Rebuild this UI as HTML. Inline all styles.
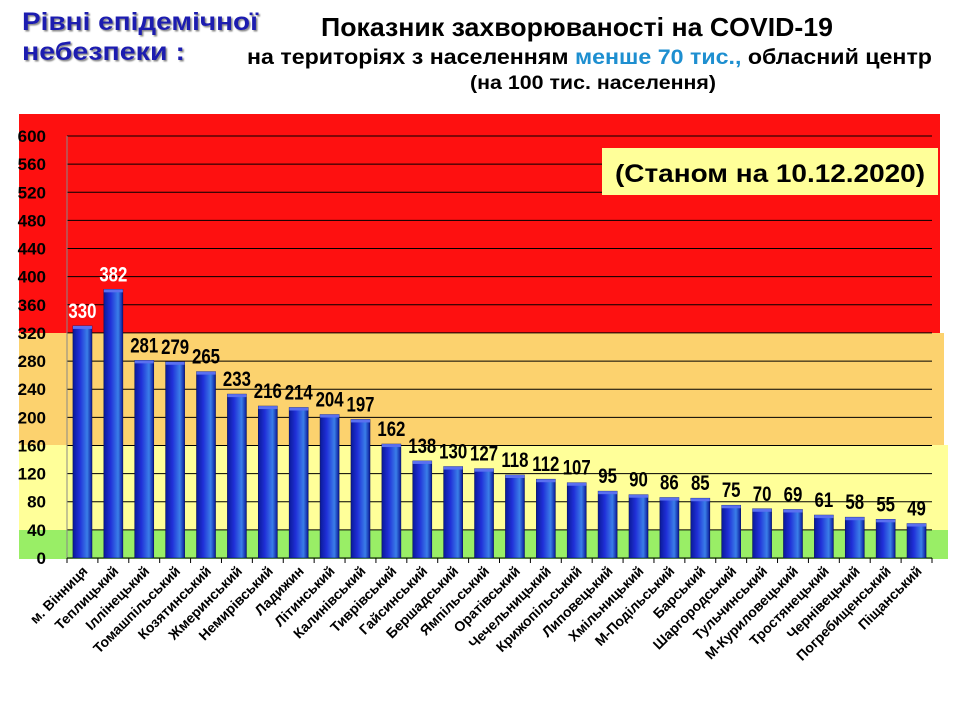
<!DOCTYPE html>
<html><head><meta charset="utf-8"><style>html,body{margin:0;padding:0;background:#fff}svg{display:block}</style></head>
<body>
<svg width="960" height="720" xmlns="http://www.w3.org/2000/svg" font-family="Liberation Sans, sans-serif" font-weight="bold">
<defs>
<linearGradient id="bg" x1="0" x2="1" y1="0" y2="0">
<stop offset="0" stop-color="#0a1a9a"/><stop offset="0.35" stop-color="#2030d8"/><stop offset="0.75" stop-color="#3a7ee8"/><stop offset="1" stop-color="#0a1a9a"/>
</linearGradient>
<filter id="sh"><feDropShadow dx="1.5" dy="1.5" stdDeviation="0.8" flood-color="#888"/></filter>
</defs>
<text x="22" y="30" font-size="25" fill="#1a1ab0" textLength="236" lengthAdjust="spacingAndGlyphs" filter="url(#sh)">Рівні епідемічної</text>
<text x="22" y="60" font-size="25" fill="#1a1ab0" textLength="163" lengthAdjust="spacingAndGlyphs" filter="url(#sh)">небезпеки :</text>
<text x="321" y="36" font-size="26" fill="#000" textLength="512" lengthAdjust="spacingAndGlyphs">Показник захворюваності на COVID-19</text>
<text x="247" y="64" font-size="21" fill="#000" textLength="685" lengthAdjust="spacingAndGlyphs">на територіях з населенням <tspan fill="#1e8fd0">менше 70 тис.,</tspan> обласний центр</text>
<text x="470" y="89" font-size="19" fill="#000" textLength="246" lengthAdjust="spacingAndGlyphs">(на 100  тис. населення)</text>
<rect x="19" y="114" width="921" height="219" fill="#fe1010"/>
<rect x="19" y="333" width="925" height="112" fill="#fcd26e"/>
<rect x="19" y="445" width="929" height="85" fill="#ffff99"/>
<rect x="19" y="530" width="929" height="29" fill="#99ee66"/>
<g id="grid" stroke="#000" stroke-width="1"></g>
<rect x="602" y="148" width="336" height="47" fill="#ffff99"/>
<text x="770" y="182" font-size="25" text-anchor="middle" fill="#000" textLength="310" lengthAdjust="spacingAndGlyphs">(Станом на 10.12.2020)</text>
<g id="chart"></g>
</svg>
<script>
const names=["м. Вінниця","Теплицький","Іллінецький","Томашпільський","Козятинський","Жмеринський","Немирівський","Ладижин","Літинський","Калинівський","Тиврівський","Гайсинський","Бершадський","Ямпільський","Оратівський","Чечельницький","Крижопільський","Липовецький","Хмільницький","М-Подільський","Барський","Шаргородський","Тульчинський","М-Куриловецький","Тростянецький","Чернівецький","Погребищенський","Піщанський"];
const vals=[330,382,281,279,265,233,216,214,204,197,162,138,130,127,118,112,107,95,90,86,85,75,70,69,61,58,55,49];
const NS="http://www.w3.org/2000/svg";
const g=document.getElementById('chart'),gr=document.getElementById('grid');
const x0=67,x1=932,y0=558,k=(558-136)/600,cw=(x1-x0)/28;
function el(t,a,p,txt){const e=document.createElementNS(NS,t);for(const i in a)e.setAttribute(i,a[i]);if(txt!=null)e.textContent=txt;p.appendChild(e);return e;}
for(let v=0;v<=600;v+=40){const y=y0-v*k;
 if(v>0)el('line',{x1:x0,x2:x1,y1:y,y2:y},gr);
 el('text',{x:46,y:y+6,'font-size':17,'text-anchor':'end',fill:'#000'},g,v);}
el('line',{x1:x0,x2:x0,y1:136,y2:y0,stroke:'#888'},g);
el('line',{x1:x0,x2:x1,y1:y0,y2:y0,stroke:'#000'},g);
for(let i=0;i<=28;i++){const x=x0+i*cw;el('line',{x1:x,x2:x,y1:y0,y2:y0+5,stroke:'#000'},g);}
vals.forEach((v,i)=>{const cx=x0+(i+.5)*cw,h=v*k,w=19;
 el('rect',{x:cx-w/2,y:y0-h,width:w,height:h,fill:'url(#bg)',stroke:'#0a1460','stroke-width':0.6},g);
 el('rect',{x:cx-w/2,y:y0-h,width:w,height:3,fill:'#5a70f0'},g);
 el('text',{x:cx,y:y0-h-8,'font-size':21,'text-anchor':'middle',fill:i<2?'#fff':'#000',transform:`translate(${cx},0) scale(0.8,1) translate(${-cx},0)`},g,v);
 el('text',{x:cx+6,y:y0+14,'font-size':14,'text-anchor':'end',fill:'#000',transform:`rotate(-45 ${cx+6} ${y0+14})`},g,names[i]);
});
</script>
</body></html>
